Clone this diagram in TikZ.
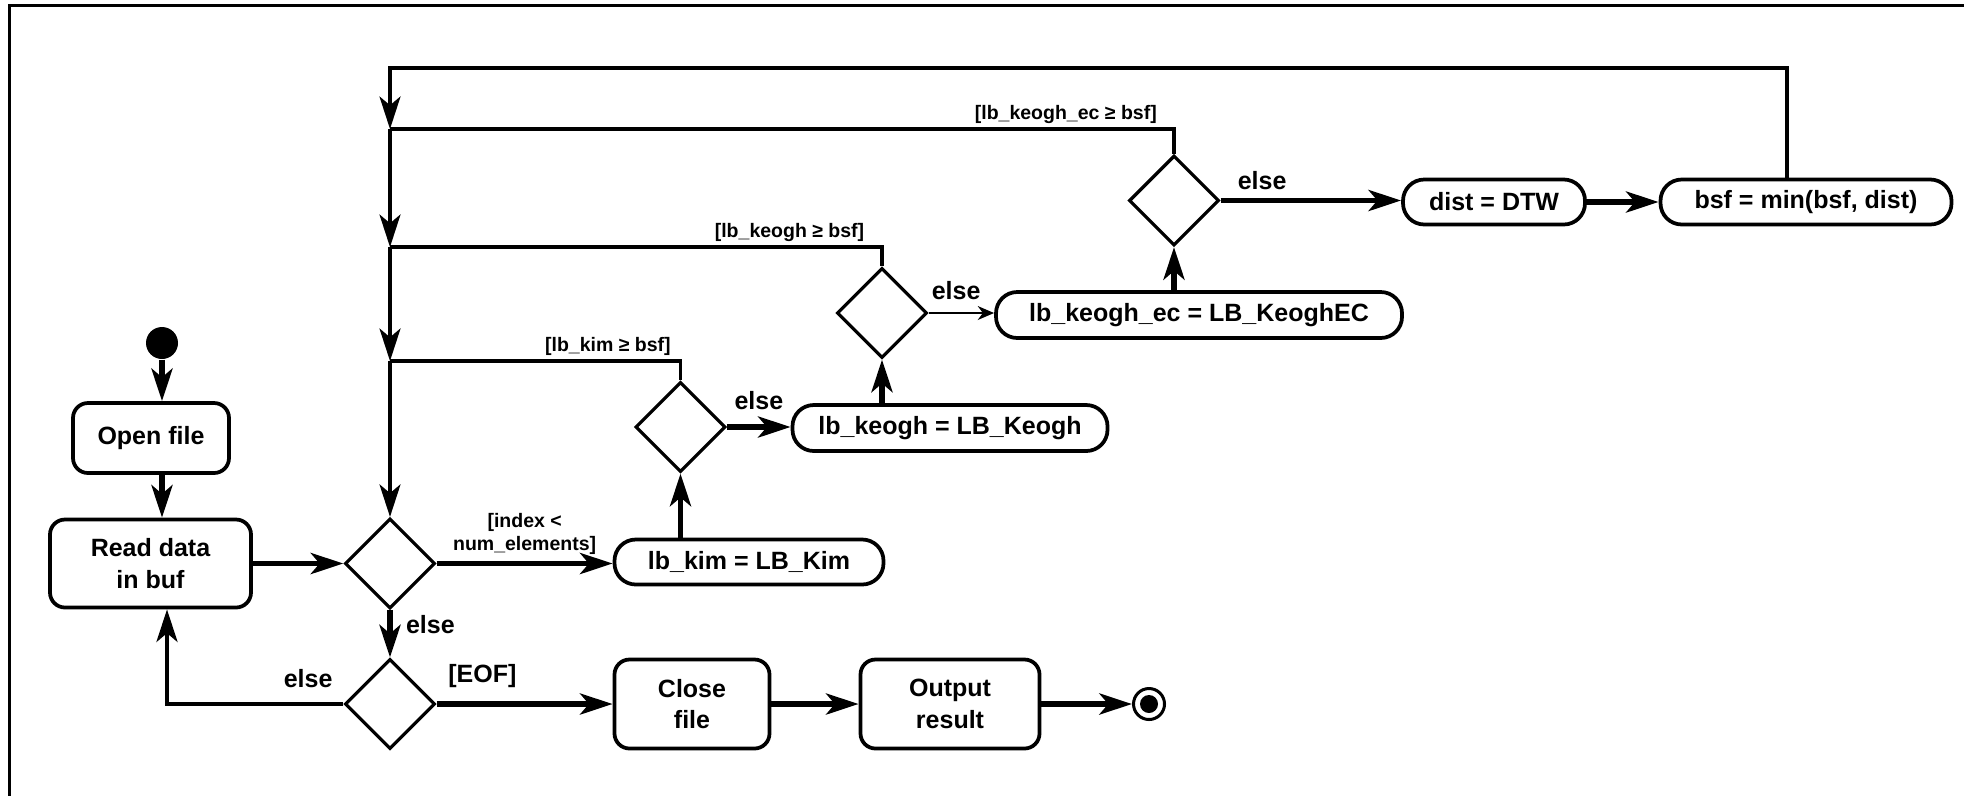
\documentclass[tikz,border=0pt]{standalone}
\usepackage{fontspec}
\setmainfont{Liberation Sans}
\usetikzlibrary{shapes.geometric,arrows.meta}

\begin{document}
\begin{tikzpicture}[x=0.4pt, y=-0.4pt,
  every node/.style={font=\fontsize{10}{12.6}\selectfont\bfseries},
  act/.style={draw, line width=1.5pt, rounded corners=6pt, align=center, inner sep=0pt},
  pill/.style={draw, line width=1.5pt, rounded corners=8.5pt, inner sep=0pt, minimum height=18pt},
  decision/.style={draw, diamond, line width=1.3pt, minimum width=36pt, minimum height=36pt, inner sep=0pt},
  guard/.style={font=\fontsize{7.8}{9}\selectfont\bfseries, align=center, inner sep=1.5pt},
  flow/.style={line width=2.2pt, -{Stealth[length=13pt, width=8.4pt, inset=3.5pt]}},
  medflow/.style={line width=1.7pt, -{Stealth[length=13pt, width=8.4pt, inset=3.5pt]}},
  thinflow/.style={line width=1.3pt, -{Stealth[length=13pt, width=8.4pt, inset=3.5pt]}},
  smallflow/.style={line width=1pt, -{Stealth[length=6.5pt, width=5.5pt, inset=2pt]}},
  guardline/.style={line width=1.3pt}]
\useasboundingbox (0,0) rectangle (1964,795);
\draw [line width=1.2pt] (9.5,800) -- (9.5,5.5) -- (1970,5.5);
% activities
\node (start) [circle, fill=black, minimum size=12.8pt, inner sep=0pt] at (162, 343) {};
\node (open) [act, minimum width=62.4pt, minimum height=28pt] at (151, 438) {Open file};
\node (read) [act, minimum width=80.4pt, minimum height=35.2pt] at (150.5, 563.5) {Read data\\in buf};
\node (d1) [decision] at (390, 563.5) {};
\node (d2) [decision] at (390, 704) {};
\node (close) [act, minimum width=62pt, minimum height=35.6pt] at (692, 704) {Close\\file};
\node (output) [act, minimum width=71.6pt, minimum height=35.6pt] at (950, 704) {Output\\result};
\node (stop) [circle, draw, line width=1.2pt, minimum size=12.4pt, inner sep=0pt] at (1149, 704) {};
\fill (stop) circle (3.6pt);
\node (lbkim) [pill, minimum width=107.6pt] at (749, 562) {lb\_kim = LB\_Kim};
\node (d3) [decision] at (680.5, 427) {};
\node (lbkeogh) [pill, minimum width=126pt, minimum height=18.4pt] at (950, 428) {lb\_keogh = LB\_Keogh};
\node (d4) [decision] at (882, 313) {};
\node (lbec) [pill, minimum width=162.4pt, minimum height=18.4pt] at (1199, 315) {lb\_keogh\_ec = LB\_KeoghEC};
\node (d5) [decision] at (1174, 200.5) {};
\node (dtw) [pill, minimum width=72.8pt] at (1494, 202) {dist = DTW};
\node (bsf) [pill, minimum width=116.4pt] at (1806, 202) {bsf = min(bsf, dist)};
% merge points
\coordinate (m0) at (390, 68);
\coordinate (m1) at (390, 129);
\coordinate (m2) at (390, 247);
\coordinate (m3) at (390, 361);
\coordinate (top) at (1787, 68);
\coordinate (back) at (167, 704);
% flows
\draw [flow] (start) -- (start |- open.north);
\draw [flow] (open.south -| start) -- (read.north -| start);
\draw [flow] (read.east |- d1) -- (d1.west);
\draw [flow] (d1.east) -- (d1.east -| lbkim.west) node [guard, midway, above=1pt] {[index <\\num\_elements]};
\draw [flow] (d1) -- (d2) node [pos=0.3, right=2pt] {else};
\draw [flow] (d2.east) -- (close.west) node [pos=0.26, above=2pt] {[EOF]};
\draw [medflow] (d2.west) -- node [pos=0.2, above=2.5pt] {else} (back) -- (read.south -| back);
\draw [flow] (close) -- (output);
\draw [flow] (output) -- (stop);
\draw [flow] (lbkim.north -| d3) -- (d3.south);
\draw [flow] (d3.east) -- (d3.east -| lbkeogh.west) node [midway, above=2.5pt] {else};
\draw [flow] (lbkeogh.north -| d4) -- (d4.south);
\draw [smallflow] (d4.east) -- (d4.east -| lbec.west) node [pos=0.42, above=1.5pt] {else};
\draw [flow] (lbec.north -| d5) -- (d5.south);
\draw [flow] (d5.east) -- (d5.east -| dtw.west) node [pos=0.23, above=0pt] {else};
\draw [flow] (dtw) -- (bsf);
% loop back
\draw [thinflow] (bsf.north -| top) -- (top) -- (m0) -- (m1);
\draw [guardline] (d5.north) |- (m1) node [guard, pos=0.569, above] {[lb\_keogh\_ec ≥ bsf]};
\draw [thinflow] (m1) -- (m2);
\draw [guardline] (d4.north) |- (m2) node [guard, pos=0.594, above] {[lb\_keogh ≥ bsf]};
\draw [thinflow] (m2) -- (m3);
\draw [guardline] (d3.north) |- (m3) node [guard, pos=0.625, above] {[lb\_kim ≥ bsf]};
\draw [thinflow] (m3) -- (d1.north);
\end{tikzpicture}
\end{document}
